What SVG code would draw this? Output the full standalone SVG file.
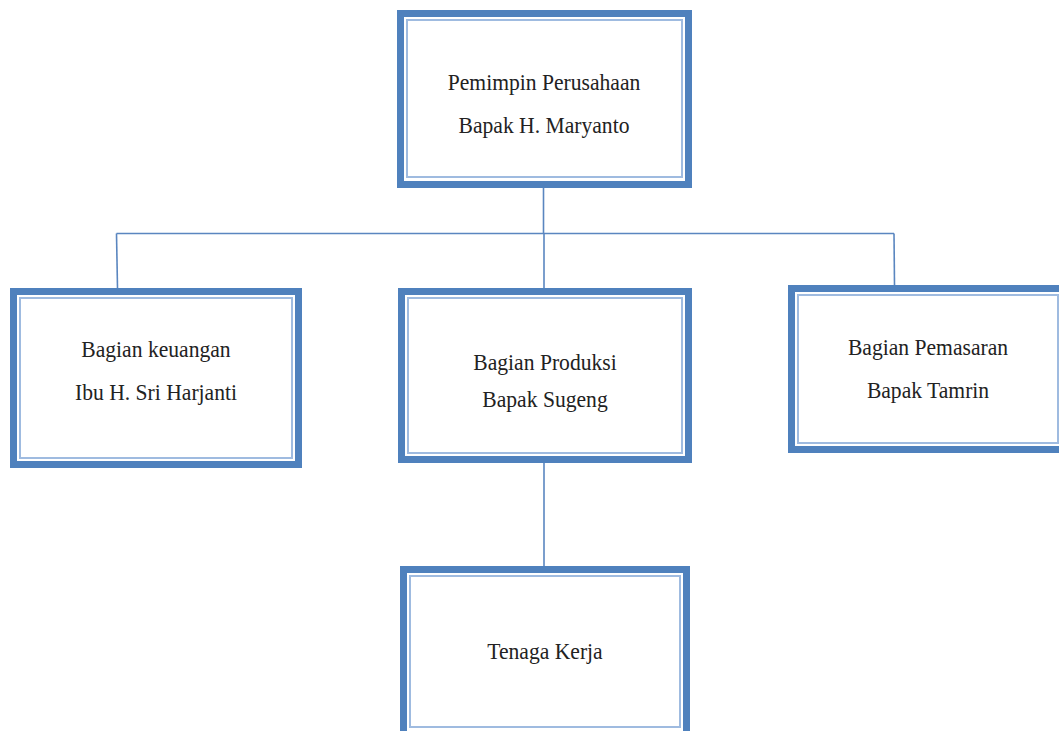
<svg xmlns="http://www.w3.org/2000/svg" width="1059" height="731" viewBox="0 0 1059 731">
<style>
.outer{fill:#ffffff;stroke:#4f81bd;stroke-width:7}
.inner{fill:none;stroke:#9fbbe0;stroke-width:2}
.lbl{font-family:"Liberation Serif","Times New Roman",serif;font-size:24px;fill:#222222;text-anchor:middle}
.conn{fill:none;stroke:#5a86c0;stroke-width:1.6}
</style>
<rect width="1059" height="731" fill="#ffffff"/>
<g id="connectors">
<path class="conn" d="M543.5,188 V233.5"/>
<path class="conn" d="M116.5,233.5 H894"/>
<path class="conn" d="M116.5,233.5 L117.5,288"/>
<path class="conn" d="M894,233.5 L894.5,285"/>
<path class="conn" d="M544,233.5 V288"/>
<path class="conn" d="M544,463 V566"/>
</g>
<g id="node-pimpinan">
<rect class="outer" x="400.5" y="13.5" width="288" height="171"/>
<rect class="inner" x="407" y="20" width="275" height="157"/>
<text class="lbl" transform="translate(544 90) scale(0.9 1)">Pemimpin Perusahaan</text>
<text class="lbl" transform="translate(544 133) scale(0.9 1)">Bapak H. Maryanto</text>
</g>
<g id="node-keuangan">
<rect class="outer" x="13.5" y="291.5" width="285" height="173"/>
<rect class="inner" x="20" y="298" width="272" height="160"/>
<text class="lbl" transform="translate(156 357) scale(0.9 1)">Bagian keuangan</text>
<text class="lbl" transform="translate(156 400) scale(0.9 1)">Ibu H. Sri Harjanti</text>
</g>
<g id="node-produksi">
<rect class="outer" x="401.5" y="291.5" width="287" height="168"/>
<rect class="inner" x="408" y="298" width="274" height="155"/>
<text class="lbl" transform="translate(545 370) scale(0.9 1)">Bagian Produksi</text>
<text class="lbl" transform="translate(545 407) scale(0.9 1)">Bapak Sugeng</text>
</g>
<g id="node-pemasaran">
<rect class="outer" x="791.5" y="288.5" width="273" height="161"/>
<rect class="inner" x="798" y="295" width="260" height="148"/>
<text class="lbl" transform="translate(928 355) scale(0.9 1)">Bagian Pemasaran</text>
<text class="lbl" transform="translate(928 398) scale(0.9 1)">Bapak Tamrin</text>
</g>
<g id="node-tenaga">
<rect class="outer" x="403.5" y="569.5" width="283" height="165"/>
<rect class="inner" x="410" y="576" width="270" height="151"/>
<text class="lbl" transform="translate(545 659) scale(0.9 1)">Tenaga Kerja</text>
</g>
</svg>
